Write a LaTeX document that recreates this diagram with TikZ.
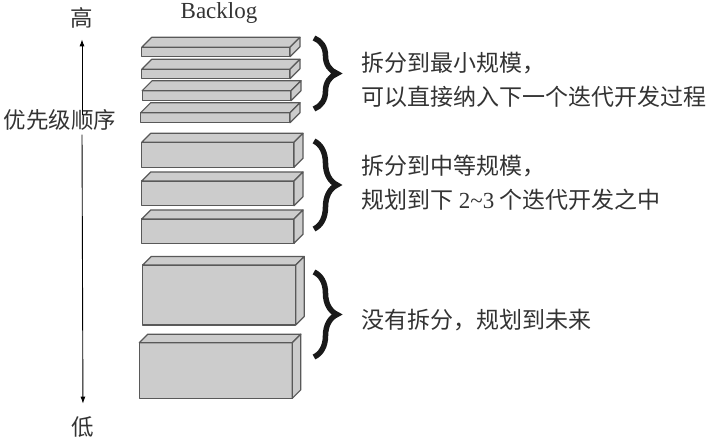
\documentclass[tikz,border=0pt]{standalone}
\usepackage{fontspec}
\setmainfont{Liberation Serif}
\newfontfamily\cjk{Noto Sans CJK SC}
\usetikzlibrary{arrows.meta,decorations.pathreplacing}

% one block of the backlog: left, top, right, bottom, depth
\newcommand{\slab}[5]{%
  \filldraw[slabface] (#1,#2) rectangle (#3,#4);
  \filldraw[slabface] (#1,#2) -- (#1+#5,#2-#5) -- (#3+#5,#2-#5) -- (#3,#2) -- cycle;
  \filldraw[slabface] (#3,#2) -- (#3+#5,#2-#5) -- (#3+#5,#4-#5) -- (#3,#4) -- cycle;
}

\begin{document}
\begin{tikzpicture}[x=1pt, y=-1pt, >={Latex[length=7pt,width=5pt]},
          slabface/.style={fill=black!20, draw=black!65, line width=1.2pt, line join=round},
          note/.style={anchor=west, align=left, inner sep=0pt, text=black!80,
                       font=\cjk\fontsize{23}{34}\selectfont},
          axis/.style={inner sep=0pt, text=black!80, font=\cjk\fontsize{22.5}{27}\selectfont},
          grp/.style={decorate, decoration={brace, amplitude=23pt}, line width=5.5pt, black!90}]
        \useasboundingbox (0,0) rectangle (713,443);
        \node[inner sep=0pt, text=black!80, font=\fontsize{23}{27}\selectfont] (title) at (219,13) {Backlog};
        % priority axis
        \node[axis] (high) at (82,18) {高};
        \node[axis] (prio) at (60,120) {优先级顺序};
        \node[axis] (low) at (83,427) {低};
        \draw[->, line width=0.9pt, shorten <=-5.75pt, shorten >=10.75pt] (prio.north -| high) -- (high.south);
        \draw[->, line width=0.9pt, shorten <=4pt, shorten >=12.75pt] (prio.south -| high) -- (low.north);
        % small items
        \slab{141.7}{47.3}{290}{56.7}{10}
        \slab{141.7}{69.3}{290}{78.7}{10}
        \slab{142.2}{90.7}{291}{100.7}{10}
        \slab{140.7}{112.7}{290}{122.7}{10}
        % medium items
        \slab{141.7}{142.3}{294}{167.3}{9}
        \slab{141.7}{181}{294}{205.7}{9}
        \slab{141.7}{219}{294}{243.3}{9}
        % large items
        \slab{142.7}{265}{295.7}{325}{8.5}
        \slab{139.3}{342.7}{292.3}{398.3}{8.5}
        % groups
        \draw[grp] (314,38) -- (314,109);
        \draw[grp] (314,141) -- (314,229);
        \draw[grp] (314,272) -- (314,357);
        \node[note] (smallnote) at (361.5,80) {拆分到最小规模，\\可以直接纳入下一个迭代开发过程};
        \node[note] (midnote) at (361.5,183) {拆分到中等规模，\\规划到下 {\rmfamily 2\textasciitilde 3} 个迭代开发之中};
        \node[note] (bignote) at (361.5,320) {没有拆分，规划到未来};
      \end{tikzpicture}
\end{document}
